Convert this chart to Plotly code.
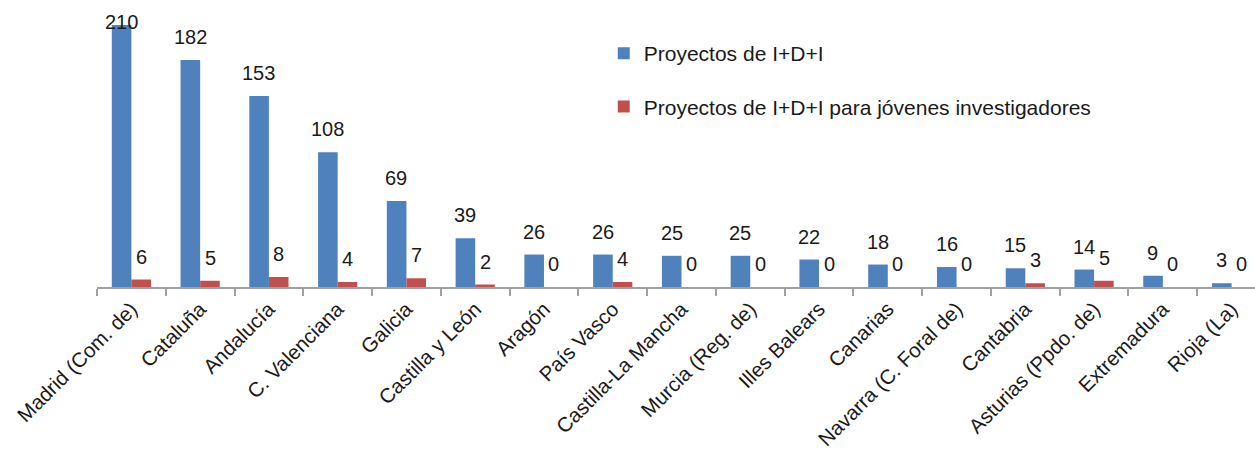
import plotly.graph_objects as go

regiones = [
    "Madrid (Com. de)", "Cataluña", "Andalucía", "C. Valenciana", "Galicia",
    "Castilla y León", "Aragón", "País Vasco", "Castilla-La Mancha",
    "Murcia (Reg. de)", "Illes Balears", "Canarias", "Navarra (C. Foral de)",
    "Cantabria", "Asturias (Ppdo. de)", "Extremadura", "Rioja (La)",
]
proyectos = [210, 182, 153, 108, 69, 39, 26, 26, 25, 25, 22, 18, 16, 15, 14, 9, 3]
jovenes = [6, 5, 8, 4, 7, 2, 0, 4, 0, 0, 0, 0, 0, 3, 5, 0, 0]

AZUL = "#4F81BD"
ROJO = "#C0504D"
FONT = "Liberation Sans, Arial, sans-serif"

Y_MAX = 230
PLOT_H = 287
px_per_unit = PLOT_H / Y_MAX

fig = go.Figure()
fig.add_trace(go.Bar(
    x=regiones, y=proyectos, name="Proyectos de I+D+I",
    marker=dict(color=AZUL, line=dict(width=0)),
    legendgroup="a",
))
fig.add_trace(go.Bar(
    x=regiones, y=jovenes, name="Proyectos de I+D+I para jóvenes investigadores",
    marker=dict(color=ROJO, line=dict(width=0)),
    legendgroup="b",
))

# data labels, roughly 23px above each bar, kept inside the plot
lift = 23 / px_per_unit
cap = Y_MAX - 22 / px_per_unit
for serie, dx in ((proyectos, -10), (jovenes, 10)):
    for reg, v in zip(regiones, serie):
        fig.add_annotation(
            x=reg, y=min(v + lift, cap), text=str(v), showarrow=False,
            xshift=dx, yanchor="middle", xanchor="center",
            font=dict(family=FONT, size=20, color="#1a1a1a"),
        )

fig.update_layout(
    width=1255, height=450,
    margin=dict(l=97, r=0, t=0, b=163, autoexpand=False),
    paper_bgcolor="white", plot_bgcolor="white",
    barmode="group", bargap=0.43, bargroupgap=0,
    font=dict(family=FONT, size=20, color="#1a1a1a"),
    showlegend=True,
    legend=dict(
        x=0.4376, y=0.885, xanchor="left", yanchor="top",
        font=dict(family=FONT, size=21, color="#1a1a1a"),
        tracegroupgap=23, bgcolor="rgba(0,0,0,0)",
    ),
    xaxis=dict(
        range=[-0.5, 16.34], showline=True, linecolor="#A0A0A0", linewidth=2,
        ticks="outside", tickson="boundaries", ticklen=7, tickcolor="#A0A0A0",
        tickwidth=2, tickangle=-45, showgrid=False, automargin=False,
        tickfont=dict(family=FONT, size=20.5, color="#1a1a1a"),
    ),
    yaxis=dict(range=[0, Y_MAX], visible=False, showgrid=False),
)

# page body has a default 8px margin; drop it so the figure fills the window
fig.write_html(
    "out.html",
    config={"displayModeBar": False},
    post_script="document.body.style.margin='0';",
)
